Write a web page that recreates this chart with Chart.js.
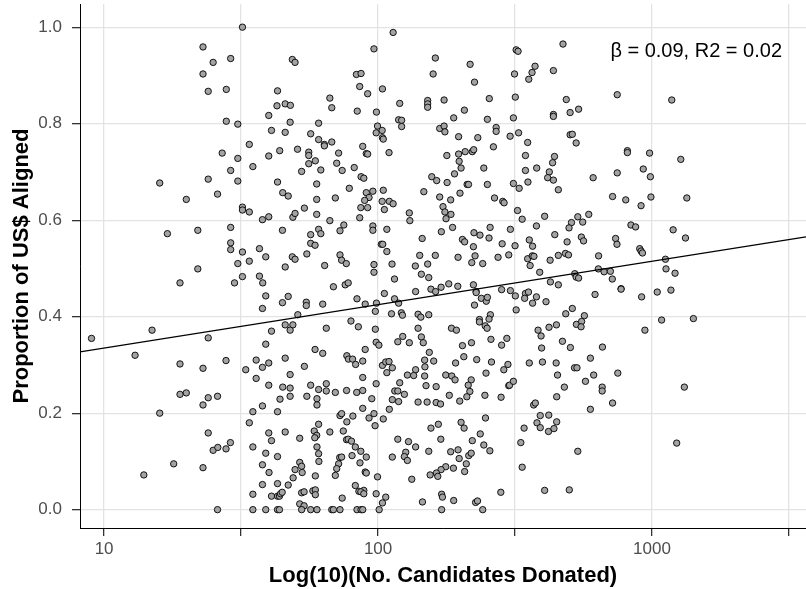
<!DOCTYPE html>
<html>
<head>
<meta charset="utf-8">
<script src="https://cdn.jsdelivr.net/npm/chart.js@4.4.0/dist/chart.umd.min.js"></script>
<style>
  html, body { margin: 0; padding: 0; background: #fff; }
</style>
</head>
<body>
<canvas id="scatter" width="806" height="589"></canvas>
<script>
// x values are log10(number of candidates donated), y is proportion aligned
const xTicks = [1, 1.5, 2, 2.5, 3, 3.5];
const xTickLabels = { 1: '10', 2: '100', 3: '1000' };
const yTicks = [0, 0.2, 0.4, 0.6, 0.8, 1.0];
const xRange = [0.912, 3.562];
const yRange = [-0.038, 1.048];
const fitSlope = 0.09;
const fitIntercept = 0.245;
const fitLabel = 'β = 0.09, R2 = 0.02';

const donorPoints = [
  [1.361,0.959],[1.398,0.927],[1.462,0.935],[1.361,0.903],[1.380,0.867],[1.446,0.871],[1.446,0.805],
  [1.488,0.799],[1.431,0.739],[1.488,0.728],[1.462,0.703],[1.488,0.681],[1.380,0.685],[1.203,0.677],
  [1.505,1.000],[2.055,0.989],[1.985,0.955],[1.687,0.933],[1.697,0.927],[1.921,0.902],[1.938,0.904],
  [1.933,0.877],[1.962,0.862],[2.016,0.872],[1.633,0.868],[1.824,0.853],[1.831,0.833],[1.631,0.837],
  [1.661,0.841],[1.680,0.838],[1.601,0.817],[1.924,0.826],[1.994,0.824],[1.679,0.803],[1.783,0.801],
  [1.611,0.786],[1.661,0.782],[1.754,0.779],[1.998,0.795],[1.993,0.781],[2.015,0.786],[2.016,0.771],
  [2.019,0.768],[1.783,0.767],[1.804,0.757],[1.804,0.754],[1.831,0.762],[1.530,0.757],[1.944,0.753],
  [1.957,0.738],[1.962,0.737],[2.040,0.740],[1.641,0.744],[1.706,0.747],[1.747,0.741],[1.747,0.734],
  [1.856,0.739],[1.601,0.733],[1.771,0.723],[1.747,0.717],[1.849,0.718],[1.543,0.711],[1.721,0.701],
  [1.791,0.704],[1.869,0.703],[1.913,0.709],[1.938,0.690],[1.948,0.687],[1.633,0.679],[1.776,0.675],
  [2.504,0.953],[2.511,0.950],[2.209,0.936],[2.201,0.903],[2.336,0.923],[2.352,0.886],[2.498,0.903],
  [2.573,0.919],[2.562,0.906],[2.550,0.892],[2.079,0.842],[2.181,0.848],[2.181,0.841],[2.181,0.834],
  [2.241,0.849],[2.406,0.852],[2.501,0.855],[2.315,0.828],[2.276,0.812],[2.399,0.809],[2.494,0.812],
  [2.075,0.808],[2.086,0.807],[2.086,0.794],[2.225,0.790],[2.241,0.795],[2.244,0.783],[2.431,0.792],
  [2.431,0.784],[2.294,0.773],[2.364,0.771],[2.482,0.774],[2.513,0.781],[2.546,0.761],[2.421,0.752],
  [2.251,0.734],[2.294,0.737],[2.318,0.742],[2.344,0.742],[2.349,0.746],[2.538,0.734],[2.296,0.722],
  [2.303,0.708],[2.386,0.708],[2.579,0.708],[2.538,0.703],[2.625,0.700],[2.279,0.696],[2.196,0.690],
  [2.214,0.682],[2.252,0.678],[2.325,0.674],[2.330,0.674],[2.399,0.674],[2.494,0.676],[2.547,0.679],
  [2.619,0.688],
  [2.675,0.965],[2.640,0.910],[2.873,0.860],[3.072,0.849],[2.687,0.850],[2.732,0.830],[2.701,0.823],
  [2.640,0.819],[2.640,0.815],[2.701,0.777],[2.709,0.778],[2.723,0.760],[2.644,0.732],[2.637,0.719],
  [2.910,0.744],[2.910,0.740],[2.991,0.739],[3.105,0.726],[2.968,0.706],[2.873,0.698],[2.785,0.688],
  [2.994,0.690],[2.640,0.683],
  [1.300,0.643],[1.414,0.654],[1.231,0.572],[1.342,0.579],[1.462,0.585],[1.462,0.553],[1.462,0.539],
  [1.488,0.510],[1.342,0.499],[1.277,0.470],[1.476,0.470],[1.175,0.372],[0.954,0.355],[1.380,0.356],
  [1.652,0.657],[1.672,0.650],[1.776,0.643],[1.844,0.646],[1.895,0.666],[1.957,0.657],[1.967,0.647],
  [1.951,0.641],[1.981,0.660],[2.019,0.662],[2.015,0.639],[2.041,0.639],[2.055,0.634],[2.023,0.622],
  [1.937,0.626],[1.962,0.626],[1.933,0.605],[1.505,0.627],[1.505,0.621],[1.530,0.617],[1.578,0.601],
  [1.601,0.607],[1.689,0.606],[1.697,0.614],[1.731,0.625],[1.776,0.612],[1.824,0.599],[1.875,0.590],
  [1.861,0.578],[1.651,0.579],[1.783,0.581],[1.791,0.572],[1.754,0.570],[1.981,0.588],[1.981,0.579],
  [2.032,0.581],[2.012,0.550],[2.017,0.550],[2.032,0.535],[1.754,0.552],[1.770,0.548],[1.567,0.541],
  [1.590,0.524],[1.505,0.534],[1.530,0.515],[1.687,0.524],[1.697,0.519],[1.740,0.530],[1.661,0.503],
  [1.805,0.506],[1.861,0.528],[1.867,0.517],[1.884,0.510],[1.985,0.508],[1.985,0.492],[2.051,0.509],
  [2.060,0.478],[1.505,0.483],[1.567,0.484],[1.579,0.470],[1.837,0.462],[1.880,0.466],[1.891,0.470],
  [1.590,0.443],[1.651,0.429],[1.672,0.442],[1.738,0.430],[1.738,0.423],[1.798,0.426],[1.923,0.437],
  [1.953,0.426],[1.994,0.428],[2.023,0.448],[1.990,0.411],[2.049,0.406],[2.060,0.437],[1.578,0.417],
  [1.707,0.404],[1.661,0.383],[1.689,0.383],[1.679,0.372],[1.611,0.370],[1.811,0.376],[1.901,0.391],
  [1.928,0.379],[1.990,0.374],[1.993,0.347],[2.003,0.341],[1.590,0.343],[1.770,0.332],[1.953,0.332],
  [2.515,0.666],[2.167,0.659],[2.225,0.648],[2.265,0.642],[2.299,0.656],[2.425,0.646],[2.455,0.639],
  [2.460,0.636],[2.237,0.628],[2.244,0.617],[2.266,0.612],[2.248,0.603],[2.114,0.615],[2.116,0.599],
  [2.509,0.620],[2.526,0.602],[2.608,0.608],[2.272,0.585],[2.231,0.576],[2.350,0.574],[2.372,0.569],
  [2.409,0.585],[2.483,0.581],[2.578,0.588],[2.161,0.562],[2.308,0.560],[2.316,0.555],[2.405,0.563],
  [2.348,0.545],[2.453,0.551],[2.500,0.547],[2.552,0.559],[2.564,0.546],[2.628,0.517],[2.152,0.527],
  [2.209,0.527],[2.292,0.523],[2.354,0.526],[2.342,0.512],[2.382,0.510],[2.438,0.523],[2.477,0.528],
  [2.546,0.520],[2.563,0.526],[2.569,0.525],[2.555,0.506],[2.590,0.492],[2.136,0.505],[2.181,0.509],
  [2.158,0.488],[2.185,0.481],[2.137,0.452],[2.193,0.457],[2.210,0.452],[2.230,0.461],[2.258,0.468],
  [2.291,0.463],[2.348,0.466],[2.358,0.452],[2.358,0.450],[2.451,0.456],[2.483,0.454],[2.501,0.443],
  [2.538,0.448],[2.549,0.451],[2.578,0.441],[2.535,0.438],[2.564,0.428],[2.613,0.431],[2.629,0.472],
  [2.075,0.428],[2.377,0.438],[2.395,0.432],[2.399,0.440],[2.352,0.424],[2.504,0.414],[2.085,0.408],
  [2.089,0.403],[2.146,0.405],[2.156,0.399],[2.185,0.404],[2.410,0.404],[2.370,0.394],[2.370,0.389],
  [2.405,0.395],[2.391,0.381],[2.398,0.376],[2.268,0.376],[2.286,0.372],[2.146,0.376],[2.090,0.359],
  [2.158,0.358],[2.165,0.346],[2.072,0.348],[2.114,0.346],[2.341,0.346],[2.308,0.340],[2.412,0.353],
  [2.470,0.355],[2.451,0.341],[2.584,0.372],[2.595,0.360],[2.624,0.378],[2.597,0.335],
  [2.658,0.663],[2.856,0.649],[2.904,0.642],[2.960,0.630],[2.996,0.648],[3.127,0.646],[2.769,0.612],
  [2.729,0.607],[2.706,0.595],[2.747,0.596],[2.697,0.584],[2.645,0.570],[2.923,0.590],[2.940,0.586],
  [3.077,0.580],[3.122,0.563],[2.742,0.565],[2.750,0.557],[2.690,0.555],[2.867,0.562],[2.872,0.550],
  [2.955,0.541],[2.960,0.536],[2.965,0.532],[2.805,0.526],[2.658,0.527],[2.684,0.531],[2.695,0.528],
  [3.049,0.519],[3.051,0.499],[3.084,0.490],[2.804,0.499],[2.825,0.493],[2.848,0.494],[2.718,0.489],
  [2.723,0.482],[2.732,0.480],[2.855,0.478],[2.658,0.466],[2.887,0.458],[2.887,0.457],[3.019,0.451],
  [3.069,0.455],[2.792,0.446],[2.962,0.441],[2.709,0.417],[2.685,0.406],[2.753,0.402],[2.651,0.383],
  [2.724,0.384],[2.743,0.390],[2.741,0.379],[3.035,0.393],[3.151,0.396],[2.974,0.372],[2.673,0.349],
  [2.702,0.336],[2.819,0.337],
  [1.113,0.320],[1.277,0.302],[1.361,0.293],[1.445,0.309],[1.277,0.239],[1.300,0.242],[1.380,0.232],
  [1.414,0.235],[1.361,0.217],[1.203,0.200],[1.380,0.159],[1.461,0.139],[1.398,0.123],[1.415,0.129],
  [1.445,0.126],[1.254,0.095],[1.361,0.087],[1.145,0.072],[1.414,0.000],
  [1.798,0.324],[1.555,0.310],[1.601,0.304],[1.578,0.295],[1.661,0.314],[1.517,0.290],[1.555,0.272],
  [1.679,0.280],[1.731,0.297],[1.886,0.319],[1.892,0.312],[1.907,0.312],[1.918,0.301],[1.944,0.308],
  [2.016,0.299],[2.028,0.306],[2.040,0.307],[2.052,0.294],[2.032,0.284],[1.944,0.274],[1.993,0.261],
  [1.601,0.258],[1.652,0.254],[1.679,0.252],[1.754,0.258],[1.783,0.249],[1.811,0.261],[1.811,0.246],
  [1.844,0.243],[1.885,0.247],[1.922,0.243],[1.944,0.247],[1.679,0.235],[1.740,0.235],[1.777,0.230],
  [1.777,0.217],[1.642,0.229],[1.977,0.230],[2.061,0.246],[2.052,0.228],[1.578,0.215],[1.543,0.203],
  [1.633,0.203],[1.944,0.210],[2.041,0.208],[1.985,0.199],[1.861,0.195],[1.867,0.199],[1.908,0.194],
  [1.967,0.190],[2.019,0.188],[1.886,0.182],[1.783,0.177],[1.989,0.174],[1.530,0.180],[1.661,0.161],
  [1.601,0.159],[1.767,0.163],[1.776,0.154],[1.769,0.149],[1.824,0.161],[1.873,0.163],[1.611,0.143],
  [1.714,0.148],[1.885,0.145],[1.891,0.146],[1.903,0.142],[1.917,0.130],[1.937,0.121],[1.957,0.109],
  [2.052,0.109],[1.543,0.130],[1.590,0.117],[1.777,0.130],[1.783,0.116],[1.633,0.110],[1.860,0.108],
  [1.867,0.109],[1.905,0.112],[1.784,0.100],[1.856,0.095],[1.934,0.097],[1.578,0.093],[1.714,0.098],
  [1.721,0.090],[1.723,0.077],[1.697,0.083],[1.602,0.077],[1.849,0.085],[1.844,0.071],[1.953,0.078],
  [1.957,0.076],[1.998,0.068],[1.690,0.066],[1.771,0.070],[1.672,0.051],[1.578,0.052],[1.633,0.054],
  [1.917,0.050],[1.930,0.038],[1.948,0.040],[1.937,0.037],[1.948,0.033],[1.993,0.033],[2.028,0.026],
  [1.543,0.032],[1.611,0.028],[1.633,0.028],[1.640,0.028],[1.644,0.033],[1.650,0.036],[1.721,0.035],
  [1.730,0.037],[1.762,0.039],[1.771,0.041],[1.771,0.031],[1.869,0.024],[2.016,0.014],[1.714,0.012],
  [1.730,0.008],[1.543,0.000],[1.590,0.000],[1.633,0.000],[1.640,0.000],[1.721,0.000],[1.754,0.000],
  [1.777,0.000],[1.831,0.000],[1.837,0.000],[1.861,0.000],[1.923,0.000],[1.938,0.000],[1.944,0.000],
  [2.004,0.000],
  [2.187,0.326],[2.170,0.310],[2.203,0.308],[2.171,0.296],[2.313,0.317],[2.360,0.311],[2.414,0.306],
  [2.283,0.304],[2.474,0.301],[2.459,0.290],[2.552,0.304],[2.600,0.306],[2.137,0.290],[2.107,0.279],
  [2.130,0.278],[2.170,0.277],[2.247,0.279],[2.269,0.277],[2.281,0.269],[2.394,0.283],[2.079,0.263],
  [2.175,0.257],[2.212,0.255],[2.340,0.269],[2.329,0.258],[2.335,0.245],[2.477,0.257],[2.480,0.258],
  [2.494,0.266],[2.072,0.246],[2.096,0.239],[2.260,0.237],[2.324,0.234],[2.390,0.237],[2.449,0.233],
  [2.075,0.224],[2.146,0.223],[2.179,0.223],[2.212,0.222],[2.228,0.219],[2.298,0.225],[2.568,0.217],
  [2.574,0.221],[2.592,0.195],[2.623,0.196],[2.580,0.180],[2.592,0.170],[2.622,0.162],[2.533,0.169],
  [2.521,0.139],[2.526,0.088],[2.608,0.040],[2.193,0.169],[2.220,0.177],[2.303,0.181],[2.314,0.169],
  [2.392,0.190],[2.229,0.146],[2.072,0.146],[2.111,0.141],[2.137,0.130],[2.344,0.143],[2.373,0.157],
  [2.386,0.134],[2.408,0.122],[2.101,0.119],[2.096,0.110],[2.107,0.102],[2.185,0.121],[2.265,0.120],
  [2.292,0.124],[2.296,0.106],[2.331,0.112],[2.340,0.117],[2.322,0.095],[2.247,0.089],[2.230,0.083],
  [2.213,0.076],[2.190,0.072],[2.218,0.069],[2.275,0.086],[2.316,0.079],[2.123,0.063],[2.448,0.036],
  [2.232,0.032],[2.235,0.026],[2.162,0.016],[2.276,0.019],[2.356,0.015],[2.363,0.018],[2.232,0.000],
  [2.382,0.000],
  [2.775,0.314],[2.650,0.304],[2.717,0.294],[2.726,0.294],[2.655,0.279],[2.787,0.279],[2.875,0.283],
  [2.757,0.266],[2.680,0.254],[2.818,0.254],[2.818,0.246],[3.118,0.254],[2.652,0.234],[2.856,0.221],
  [2.775,0.208],[2.652,0.182],[2.642,0.168],[3.090,0.138],[2.729,0.121],[2.698,0.041]
];

// fitted regression line across the full x range
const fitLine = xRange.map(x => ({ x: x, y: fitIntercept + fitSlope * x }));

const fontFamily = "'Liberation Sans', Arial, sans-serif";

// writes the coefficient note in the upper right of the plot
const fitNote = {
  id: 'fitNote',
  afterDatasetsDraw(chart) {
    const { ctx, chartArea } = chart;
    ctx.save();
    ctx.font = '20px ' + fontFamily;
    ctx.fillStyle = '#000';
    ctx.textAlign = 'right';
    ctx.textBaseline = 'middle';
    ctx.fillText(fitLabel, chartArea.right - 24, 51);
    ctx.restore();
  }
};

new Chart(document.getElementById('scatter'), {
  type: 'scatter',
  data: {
    datasets: [
      {
        type: 'line',
        data: fitLine,
        borderColor: '#000',
        borderWidth: 1.3,
        pointRadius: 0,
        fill: false,
        order: 0
      },
      {
        data: donorPoints.map(p => ({ x: p[0], y: p[1] })),
        pointRadius: 3.2,
        pointBackgroundColor: '#a3a3a3',
        pointBorderColor: '#000',
        pointBorderWidth: 0.9,
        order: 1
      }
    ]
  },
  options: {
    responsive: false,
    animation: false,
    devicePixelRatio: 1,
    layout: { autoPadding: false, padding: { top: 4, right: 0, left: 0, bottom: 0 } },
    plugins: { legend: { display: false }, tooltip: { enabled: false } },
    scales: {
      x: {
        type: 'linear',
        min: xRange[0],
        max: xRange[1],
        afterBuildTicks: s => { s.ticks = xTicks.map(v => ({ value: v })); },
        afterFit: s => { s.height = 61; s.paddingLeft = 0; s.paddingRight = 0; },
        grid: { color: '#e3e3e3', lineWidth: 1.3, tickLength: 8, tickColor: '#333' },
        border: { display: true, color: '#000', width: 1 },
        ticks: {
          autoSkip: false,
          maxRotation: 0,
          padding: 3,
          color: '#4d4d4d',
          font: { family: fontFamily, size: 17 },
          callback: v => xTickLabels[v] || ''
        },
        title: {
          display: true,
          text: 'Log(10)(No. Candidates Donated)',
          color: '#000',
          font: { family: fontFamily, size: 22, weight: 'bold' },
          padding: { top: 0, bottom: 0 }
        }
      },
      y: {
        min: yRange[0],
        max: yRange[1],
        afterBuildTicks: s => { s.ticks = yTicks.map(v => ({ value: v })); },
        afterFit: s => { s.width = 80; s.paddingTop = 0; s.paddingBottom = 0; },
        grid: { color: '#e3e3e3', lineWidth: 1.3, tickLength: 8, tickColor: '#333' },
        border: { display: true, color: '#000', width: 1 },
        ticks: {
          padding: 10,
          color: '#4d4d4d',
          font: { family: fontFamily, size: 17 },
          callback: v => v.toFixed(1)
        },
        title: {
          display: true,
          text: 'Proportion of US$ Aligned',
          color: '#000',
          font: { family: fontFamily, size: 22, weight: 'bold' },
          padding: { top: 9, bottom: 0 }
        }
      }
    }
  },
  plugins: [fitNote]
});
</script>
</body>
</html>
